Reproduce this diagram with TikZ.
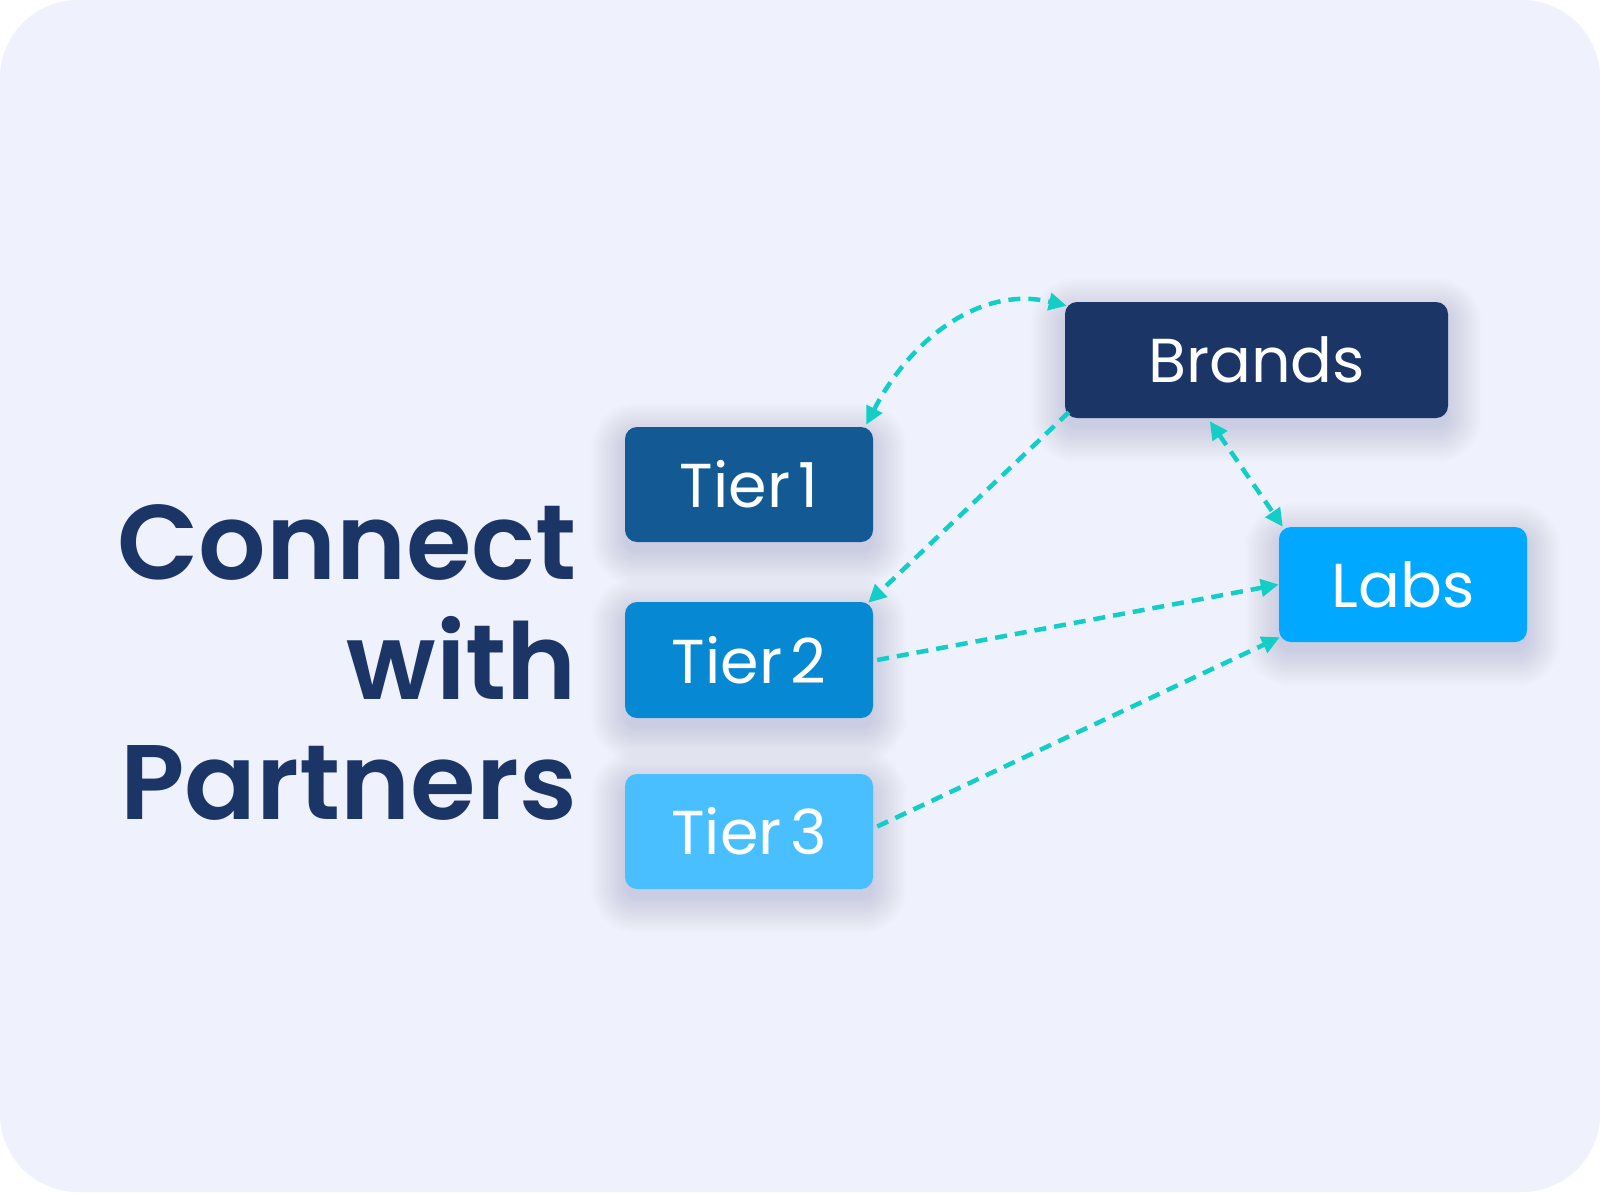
\documentclass[tikz,border=0pt]{standalone}
\usepackage{fontspec}
\setmainfont{Poppins}[WordSpace=0.5]
\newfontfamily\headfont{Poppins SemiBold}
\usetikzlibrary{arrows.meta,calc}
\definecolor{bgcol}{HTML}{EFF1FD}
\definecolor{navy}{HTML}{1B3566}
\definecolor{tierone}{HTML}{135A94}
\definecolor{tiertwo}{HTML}{0788D3}
\definecolor{tierthree}{HTML}{4ABFFF}
\definecolor{labscol}{HTML}{00A8FF}
\definecolor{teal}{RGB}{18,206,198}
\definecolor{shadowcol}{RGB}{40,50,110}
\pgfdeclarelayer{bg}
\pgfdeclarelayer{shadow}
\pgfsetlayers{bg,shadow,main}
\newcommand\softshadow[1]{%
  \foreach \k in {0,...,17}{%
    \pgfmathsetmacro\rr{12+2*\k}%
    \pgfmathsetmacro\dd{2*\k}%
    \fill[shadowcol,opacity=0.0065,rounded corners=\rr pt]
      ($(#1.south west)+(-\dd,\dd+10)$) rectangle ($(#1.north east)+(\dd,-\dd+10)$);
  }%
}
\tikzset{
  box/.style={rectangle,rounded corners=12pt,inner sep=0pt,text=white,
    font=\fontsize{62}{70}\selectfont},
  head/.style={anchor=base east,inner sep=0pt,text=navy,
    font=\fontsize{106}{120}\selectfont\headfont},
  link/.style={teal,line width=4.5pt,dash pattern=on 12pt off 8pt,
    >={Triangle[length=18pt,width=17pt]}},
}
\begin{document}
\begin{tikzpicture}[x=1pt,y=-1pt]
\useasboundingbox (0,0) rectangle (1600,1192);
\begin{pgfonlayer}{bg}
  \fill[white] (0,0) rectangle (1600,1192);
  \fill[bgcol,rounded corners=78pt] (0,0) rectangle (1600,1192);
\end{pgfonlayer}

\node[head] (h1) at (577,579) {Connect};
\node[head] (h2) at (577,699) {with};
\node[head] (h3) at (577,819) {Partners};

\node[box,fill=navy,minimum width=383pt,minimum height=116pt] (brands) at (1256.5,360) {Brands};
\node[box,fill=tierone,minimum width=248pt,minimum height=115pt] (t1) at (749,484.5) {Tier 1};
\node[box,fill=tiertwo,minimum width=248pt,minimum height=116pt] (t2) at (749,660) {Tier 2};
\node[box,fill=tierthree,minimum width=248pt,minimum height=115pt] (t3) at (749,831.5) {Tier 3};
\node[box,fill=labscol,minimum width=248pt,minimum height=115pt] (labs) at (1403,584.5) {Labs};

\begin{pgfonlayer}{shadow}
  \softshadow{brands}
  \softshadow{t1}
  \softshadow{t2}
  \softshadow{t3}
  \softshadow{labs}
\end{pgfonlayer}

\coordinate (c1) at ($(t1.north east)+(-7,-2)$);
\coordinate (c2) at ($(brands.north west)+(2,4)$);
\draw[link,<->] (c1) .. controls (910,340) and (980,285) .. (c2);

\coordinate (c3) at ($(brands.south west)+(4,-6)$);
\coordinate (c4) at ($(t2.north east)+(-5,1)$);
\draw[link,->] (c3) -- (c4);

\coordinate (c5) at ($(brands.south west)+(145,3)$);
\coordinate (c6) at ($(labs.north west)+(4,0)$);
\draw[link,<->] (c5) -- (c6);

\coordinate (c7) at ($(t2.east)+(4,0)$);
\draw[link,->] (c7) -- (labs.west);

\coordinate (c8) at ($(t3.east)+(4,-5)$);
\coordinate (c9) at ($(labs.south west)+(1,-5)$);
\draw[link,->] (c8) -- (c9);
\end{tikzpicture}
\end{document}
